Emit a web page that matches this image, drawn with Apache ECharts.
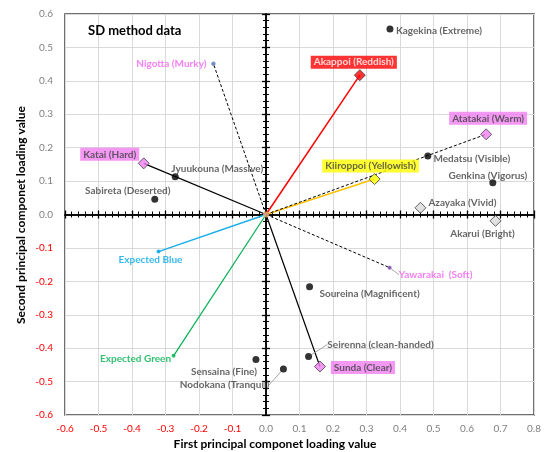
<!DOCTYPE html>
<html>
<head>
<meta charset="utf-8">
<script src="https://cdn.jsdelivr.net/npm/echarts@6/dist/echarts.min.js"></script>
<style>html,body{margin:0;padding:0;background:#fff}#c{width:544px;height:452px}</style>
</head>
<body>
<div id="c"></div>
<script>
// ---- data ----
const names = ['Kagekina (Extreme)','Akappoi (Reddish)','Atatakai (Warm)','Medatsu (Visible)','Kiiroppoi (Yellowish)','Genkina (Vigorus)','Azayaka (Vivid)','Akarui (Bright)','Yawarakai  (Soft)','Soureina (Magnificent)','Seirenna (clean-handed)','Sunda (Clear)','Nodokana (Tranquil)','Sensaina (Fine)','Expected Green','Expected Blue','Katai (Hard)','Jyuukouna (Massive)','Sabireta (Deserted)','Nigotta (Murky)'];
const pc1 = [0.370, 0.280, 0.657, 0.483, 0.324, 0.677, 0.461, 0.685, 0.369, 0.130, 0.127, 0.161, 0.052, -0.030, -0.276, -0.321, -0.365, -0.271, -0.332, -0.157];
const pc2 = [0.555, 0.417, 0.240, 0.175, 0.106, 0.095, 0.020, -0.019, -0.159, -0.216, -0.425, -0.455, -0.462, -0.434, -0.423, -0.111, 0.153, 0.113, 0.046, 0.451];
const origin = [0, 0];
const xTicks = [-0.6,-0.5,-0.4,-0.3,-0.2,-0.1,0,0.1,0.2,0.3,0.4,0.5,0.6,0.7,0.8];
const yTicks = [-0.6,-0.5,-0.4,-0.3,-0.2,-0.1,0,0.1,0.2,0.3,0.4,0.5,0.6];

// ---- styles ----
const FONT = 'Lato, "Liberation Sans", sans-serif';
const PINK = '#f07ef0';
const markerStyles = {
  dot:     {symbol:'circle', symbolSize:7, itemStyle:{color:'#000'}},
  pink:    {symbol:'diamond', symbolSize:11, itemStyle:{color:PINK, borderColor:'#404040', borderWidth:1}},
  red:     {symbol:'diamond', symbolSize:11, itemStyle:{color:'#ff0000', borderColor:'#404040', borderWidth:1}},
  yellow:  {symbol:'diamond', symbolSize:11, itemStyle:{color:'#ffff00', borderColor:'#404040', borderWidth:1}},
  gray:    {symbol:'diamond', symbolSize:11, itemStyle:{color:'#d9d9d9', borderColor:'#404040', borderWidth:1}},
  smBlue:  {symbol:'circle', symbolSize:4, itemStyle:{color:'#4472c4', borderColor:'#999', borderWidth:0.5}},
  smPurple:{symbol:'circle', symbolSize:4, itemStyle:{color:'#7030a0', borderColor:'#ccc', borderWidth:0.5}},
  smSky:   {symbol:'circle', symbolSize:4, itemStyle:{color:'#00a0e8'}},
  smGreen: {symbol:'circle', symbolSize:4, itemStyle:{color:'#00b050'}}
};
// kind, label dx, dy, label text colour, label background, leader line
const pointStyle = {
  'Kagekina (Extreme)':      ['dot', 49, 2],
  'Akappoi (Reddish)':       ['red', -6, -13, '#fff', '#ff0000'],
  'Atatakai (Warm)':         ['pink', 2, -16, '#404040', PINK],
  'Medatsu (Visible)':       ['dot', 44, 3],
  'Kiiroppoi (Yellowish)':   ['yellow', -4, -13, '#404040', '#ffff00'],
  'Genkina (Vigorus)':       ['dot', -5, -7],
  'Azayaka (Vivid)':         ['gray', 42, -5],
  'Akarui (Bright)':         ['gray', -13, 13],
  'Yawarakai  (Soft)':       ['smPurple', 46, 7, '#f060f0', null, true],
  'Soureina (Magnificent)':  ['dot', 60, 7],
  'Seirenna (clean-handed)': ['dot', 72, -12, null, null, true],
  'Sunda (Clear)':           ['pink', 43, 1, '#404040', PINK],
  'Nodokana (Tranquil)':     ['dot', -59, 16, null, null, true],
  'Sensaina (Fine)':         ['dot', -32, 12],
  'Expected Green':          ['smGreen', -38, 3, '#00b050'],
  'Expected Blue':           ['smSky', -8, 8, '#00a8ec'],
  'Katai (Hard)':            ['pink', -34, -9, '#404040', PINK],
  'Jyuukouna (Massive)':     ['dot', 42, -8],
  'Sabireta (Deserted)':     ['dot', -27, -8],
  'Nigotta (Murky)':         ['smBlue', -42, 0, '#f060f0']
};
// vectors from origin
const vectors = [
  ['Akappoi (Reddish)', '#ff0000', 'solid', 1.5],
  ['Kiiroppoi (Yellowish)', '#ffc000', 'solid', 1.5],
  ['Atatakai (Warm)', '#000', [3,2], 1],
  ['Nigotta (Murky)', '#000', [3,2], 1],
  ['Yawarakai  (Soft)', '#000', [3,2], 1],
  ['Katai (Hard)', '#000', 'solid', 1.2],
  ['Sunda (Clear)', '#000', 'solid', 1.2],
  ['Expected Blue', '#1aaee8', 'solid', 1.5],
  ['Expected Green', '#00b050', 'solid', 1.2]
];

const scatterData = names.map((n, i) => {
  const s = pointStyle[n];
  const m = markerStyles[s[0]];
  return {
    name: n,
    value: [pc1[i], pc2[i]],
    symbol: m.symbol,
    symbolSize: m.symbolSize,
    itemStyle: m.itemStyle,
    label: {
      show: true,
      formatter: n,
      position: 'inside',
      align: 'center',
      verticalAlign: 'middle',
      color: s[3] || '#404040',
      backgroundColor: s[4] || 'transparent',
      padding: s[4] ? [2, 3, 1, 3] : 0,
      fontSize: 10,
      fontWeight: 'bold',
      fontFamily: FONT
    },
    labelLine: {show: !!s[5], lineStyle: {color: '#a6a6a6', width: 1}}
  };
});

const lineSeries = vectors.map(v => {
  const i = names.indexOf(v[0]);
  return {
    type: 'line',
    data: [origin, [pc1[i], pc2[i]]],
    symbol: 'none',
    silent: true,
    z: 3,
    lineStyle: {color: v[1], type: v[2], width: v[3]}
  };
});

const fmt = v => Math.abs(v) < 1e-9 ? '0.0' : Number(v).toFixed(1);
const col = v => (Number(v) < -1e-9 ? '#ff0000' : '#808080');

function centerAxis(isX, inside) {
  return {
    type: 'value', min: -0.6, max: isX ? 0.8 : 0.6, interval: 0.1,
    position: isX ? 'bottom' : 'left',
    axisLine: {show: true, onZero: true, onZeroAxisIndex: 0, lineStyle: {color: '#000', width: 1.5}},
    axisTick: {show: true, inside: inside, length: 4, lineStyle: {color: '#000', width: 1.3}},
    minorTick: {show: true, splitNumber: 5, length: 3, lineStyle: {color: '#000', width: 1}},
    axisLabel: {show: false},
    splitLine: {show: false},
    z: 2
  };
}

const chart = echarts.init(document.getElementById('c'), null, {renderer: 'canvas'});
chart.setOption({
  animation: false,
  backgroundColor: '#fff',
  title: {
    text: 'SD method data', left: 83, top: 19,
    textStyle: {fontSize: 13, fontWeight: 'bold', color: '#000', fontFamily: FONT}
  },
  grid: {left: 65, right: 8, top: 14, bottom: 37, show: true, borderColor: '#404040', borderWidth: 1.5, backgroundColor: 'transparent', containLabel: false},
  xAxis: [
    {
      type: 'value', min: xTicks[0], max: xTicks[xTicks.length - 1], interval: 0.1,
      position: 'bottom',
      axisLine: {show: false, onZero: false},
      axisTick: {show: false},
      axisLabel: {formatter: fmt, color: col, fontSize: 10, fontFamily: FONT, margin: 9},
      splitLine: {show: true, lineStyle: {color: '#d9d9d9', width: 1}}
    },
    centerAxis(true, false),
    centerAxis(true, true)
  ],
  yAxis: [
    {
      type: 'value', min: yTicks[0], max: yTicks[yTicks.length - 1], interval: 0.1,
      position: 'left',
      axisLine: {show: false, onZero: false},
      axisTick: {show: false},
      axisLabel: {formatter: fmt, color: col, fontSize: 10, fontFamily: FONT, margin: 12},
      splitLine: {show: true, lineStyle: {color: '#d9d9d9', width: 1}}
    },
    centerAxis(false, false),
    centerAxis(false, true)
  ],
  graphic: [
    {
      type: 'text', x: 275, y: 444, silent: true,
      style: {text: 'First principal componet loading value', fill: '#000', font: 'bold 12px ' + FONT, align: 'center', verticalAlign: 'middle'}
    },
    {
      type: 'text', x: 21, y: 215, rotation: Math.PI / 2, silent: true,
      style: {text: 'Second principal componet loading value', fill: '#000', font: 'bold 12px ' + FONT, align: 'center', verticalAlign: 'middle'}
    }
  ],
  series: lineSeries.concat([
    {
      type: 'scatter',
      z: 5,
      data: scatterData,
      labelLayout: function (p) {
        const s = pointStyle[names[p.dataIndex]];
        return {dx: s[1], dy: s[2]};
      }
    },
    {
      type: 'scatter', z: 6, silent: true,
      data: [origin],
      symbol: 'circle', symbolSize: 6,
      itemStyle: {color: '#f4b183'}
    }
  ])
});
</script>
</body>
</html>
